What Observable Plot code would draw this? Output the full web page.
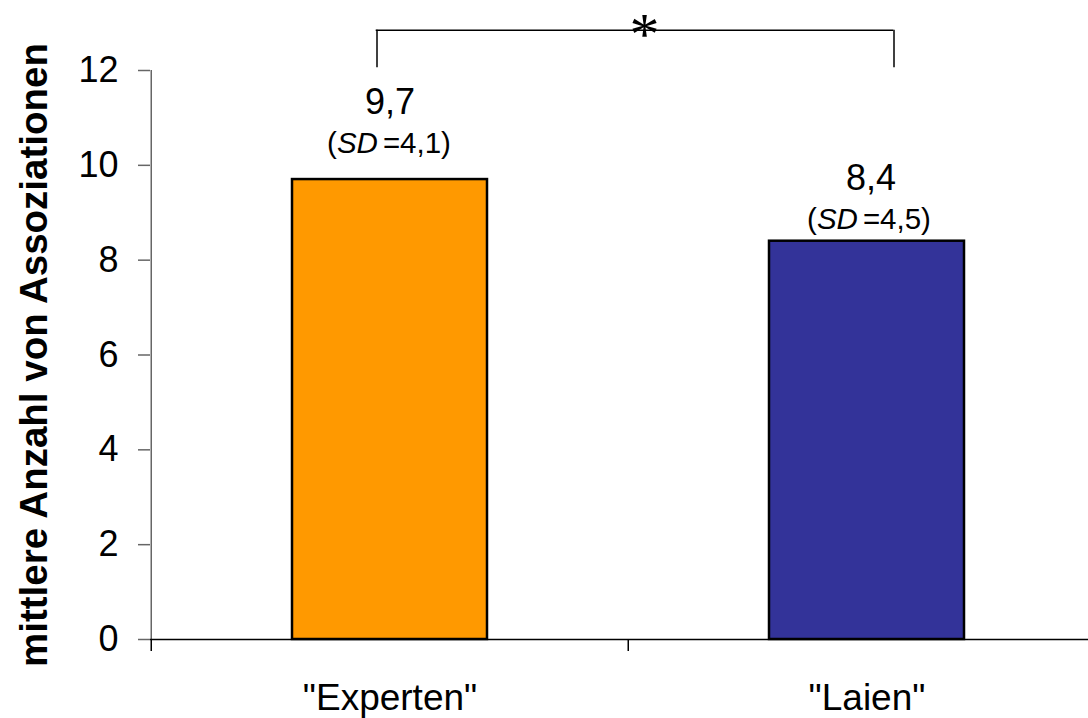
<!DOCTYPE html>
<html>
<head>
<meta charset="utf-8">
<script src="https://cdn.jsdelivr.net/npm/d3@7"></script>
<script src="https://cdn.jsdelivr.net/npm/@observablehq/plot@0.6"></script>
<style>
  html, body { margin: 0; padding: 0; background: #fff; }
  #chart svg { display: block; }
</style>
</head>
<body>
<div id="chart"></div>
<script>
// ---- data ----
const categories = ['"Experten"', '"Laien"'];
const means = [9.7, 8.4];
const sds = [4.1, 4.5];
const barColors = ["#FF9900", "#333399"];
const yTicks = [0, 2, 4, 6, 8, 10, 12];
const yTitle = "mittlere Anzahl von Assoziationen";
const sigLabel = ["*"];
const bracketLow = [12.06];
const bracketHigh = [12.85];

const fmt = v => String(v).replace(".", ",");
const data = categories.map((c, i) => ({cat: c, mean: means[i], sd: sds[i], color: barColors[i]}));

// ---- layout ----
const W = 1088, H = 718;
const mL = 150, mR = -17, mT = 70, mB = 79;
const step = (W - mL - mR) / categories.length;
const FONT = '"Liberation Sans", Arial, Helvetica, sans-serif';

const plot = Plot.plot({
  width: W,
  height: H,
  marginLeft: mL,
  marginRight: mR,
  marginTop: mT,
  marginBottom: mB,
  style: {fontFamily: FONT, fontSize: "36px", background: "#fff", color: "#000", overflow: "visible"},
  x: {type: "band", domain: categories, paddingInner: 0.592, paddingOuter: 0.296},
  y: {domain: [0, 12]},
  color: {type: "identity"},
  marks: [
    // y axis line
    Plot.ruleX([categories[0]], {y1: 0, y2: 12, dx: -step / 2, stroke: "#666", strokeWidth: 1.5}),
    // y ticks and labels
    Plot.axisY(yTicks, {tickSize: 12, tickPadding: 20, stroke: "#666", strokeWidth: 1.5, fill: "#000", fontSize: 36, label: null}),
    // bars
    Plot.barY(data, {x: "cat", y: "mean", fill: "color", stroke: "#000", strokeWidth: 2.5}),
    // x axis line
    Plot.ruleY([0], {stroke: "#000", strokeWidth: 1.5}),
    // x ticks at band boundaries
    Plot.axisX({tickSize: 12, dx: -step / 2, tickFormat: () => "", stroke: "#000", strokeWidth: 1.5, label: null}),
    // x labels
    Plot.axisX({tickSize: 0, tickPadding: 44, fontSize: 37, fill: "#000", label: null}),
    // value labels
    Plot.text(data.filter(d => d.cat === categories[0]), {x: "cat", y: "mean", text: d => fmt(d.mean), lineAnchor: "bottom", dy: -66, fontSize: 36}),
    Plot.text(data.filter(d => d.cat === categories[0]), {x: "cat", y: "mean", text: d => `(SD=${fmt(d.sd)})`, lineAnchor: "bottom", dy: -27, dx: -1, fontSize: 29.5}),
    Plot.text(data.filter(d => d.cat === categories[1]), {x: "cat", y: "mean", text: d => fmt(d.mean), lineAnchor: "bottom", dy: -51, dx: 4, fontSize: 36}),
    Plot.text(data.filter(d => d.cat === categories[1]), {x: "cat", y: "mean", text: d => `(SD=${fmt(d.sd)})`, lineAnchor: "bottom", dy: -12, dx: 2, fontSize: 29.5}),
    // significance bracket
    Plot.ruleX([categories[0]], {y1: () => bracketLow[0], y2: () => bracketHigh[0], dx: -13, stroke: "#000", strokeWidth: 1.5}),
    Plot.ruleX([categories[1]], {y1: () => bracketLow[0], y2: () => bracketHigh[0], dx: 27, stroke: "#000", strokeWidth: 1.5}),
    Plot.ruleY(bracketHigh, {insetLeft: 225.7, insetRight: 211.7, stroke: "#000", strokeWidth: 1.5}),
    Plot.text(sigLabel, {y: () => bracketHigh[0], text: d => d, dx: 16.5, dy: 24, lineAnchor: "bottom", fontFamily: '"Liberation Serif", "Times New Roman", serif', fontSize: 60}),
    // y title
    Plot.text([yTitle], {frameAnchor: "left", text: d => d, rotate: -90, dx: -116, textAnchor: "middle", lineAnchor: "middle", fontWeight: "bold", fontSize: 38.5})
  ]
});

// italicize "SD"
d3.select(plot).selectAll("text").each(function() {
  const t = this.textContent;
  if (t.startsWith("(SD=")) {
    const rest = t.slice(3);
    const sel = d3.select(this);
    sel.text("");
    sel.append("tspan").text("(");
    sel.append("tspan").attr("font-style", "italic").text("SD");
    sel.append("tspan").attr("dx", 5).text(rest);
  }
});

document.getElementById("chart").appendChild(plot);
</script>
</body>
</html>
